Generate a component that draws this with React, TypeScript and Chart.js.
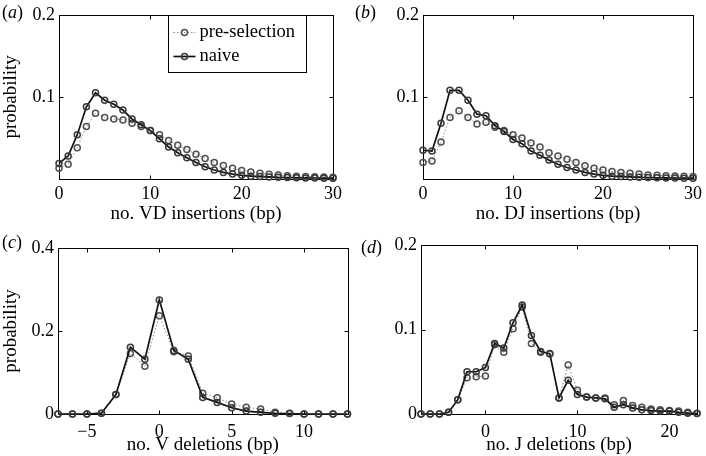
import React, { useEffect, useRef } from "react";
import { Chart, registerables } from "chart.js";

Chart.register(...registerables);

// ---------- data ----------
const vdInsX = [0, 1, 2, 3, 4, 5, 6, 7, 8, 9, 10, 11, 12, 13, 14, 15, 16, 17, 18, 19, 20, 21, 22, 23, 24, 25, 26, 27, 28, 29, 30];
const vdPre = [0.013, 0.018, 0.038, 0.064, 0.080, 0.075, 0.073, 0.072, 0.068, 0.064, 0.059, 0.054, 0.047, 0.041, 0.036, 0.030, 0.025, 0.020, 0.0165, 0.013, 0.0105, 0.0085, 0.007, 0.0058, 0.0048, 0.004, 0.0035, 0.003, 0.0027, 0.0024, 0.0022];
const vdNaive = [0.019, 0.028, 0.054, 0.088, 0.105, 0.096, 0.091, 0.084, 0.073, 0.066, 0.059, 0.049, 0.039, 0.032, 0.026, 0.020, 0.015, 0.011, 0.008, 0.006, 0.0045, 0.0035, 0.003, 0.0025, 0.002, 0.0018, 0.0015, 0.0013, 0.0012, 0.001, 0.001];

const djInsX = [0, 1, 2, 3, 4, 5, 6, 7, 8, 9, 10, 11, 12, 13, 14, 15, 16, 17, 18, 19, 20, 21, 22, 23, 24, 25, 26, 27, 28, 29, 30];
const djPre = [0.020, 0.022, 0.045, 0.075, 0.083, 0.075, 0.067, 0.069, 0.063, 0.059, 0.054, 0.050, 0.044, 0.039, 0.032, 0.028, 0.024, 0.020, 0.016, 0.013, 0.011, 0.009, 0.0078, 0.007, 0.006, 0.005, 0.0045, 0.004, 0.0036, 0.0032, 0.003];
const djNaive = [0.035, 0.034, 0.068, 0.108, 0.108, 0.096, 0.079, 0.077, 0.065, 0.058, 0.048, 0.043, 0.034, 0.029, 0.023, 0.018, 0.014, 0.011, 0.008, 0.006, 0.0045, 0.0035, 0.003, 0.0025, 0.002, 0.0018, 0.0015, 0.0013, 0.0012, 0.001, 0.001];

const vDelX = [-7, -6, -5, -4, -3, -2, -1, 0, 1, 2, 3, 4, 5, 6, 7, 8, 9, 10, 11, 12, 13];
const vPre = [0, 0, 0, 0.002, 0.047, 0.146, 0.115, 0.237, 0.150, 0.140, 0.050, 0.039, 0.024, 0.016, 0.012, 0.004, 0.0016, 0, 0, 0, 0];
const vNaive = [0, 0, 0, 0.002, 0.047, 0.161, 0.132, 0.275, 0.153, 0.132, 0.040, 0.028, 0.015, 0.007, 0.004, 0.0016, 0.001, 0, 0, 0, 0];

const jDelX = [-7, -6, -5, -4, -3, -2, -1, 0, 1, 2, 3, 4, 5, 6, 7, 8, 9, 10, 11, 12, 13, 14, 15, 16, 17, 18, 19, 20, 21, 22, 23];
const jPre = [0, 0, 0, 0.002, 0.017, 0.043, 0.044, 0.045, 0.082, 0.073, 0.101, 0.1265, 0.0835, 0.073, 0.071, 0.019, 0.058, 0.028, 0.020, 0.019, 0.019, 0.011, 0.016, 0.010, 0.008, 0.006, 0.005, 0.004, 0.0035, 0.002, 0.001];
const jNaive = [0, 0, 0, 0.002, 0.017, 0.050, 0.050, 0.055, 0.0835, 0.078, 0.108, 0.129, 0.093, 0.074, 0.0715, 0.019, 0.040, 0.023, 0.020, 0.019, 0.018, 0.008, 0.011, 0.0072, 0.005, 0.004, 0.0035, 0.0035, 0.002, 0.001, 0.0005];

const insXTicks = [0, 10, 20, 30];
const insYTicks = [0.1, 0.2];
const vXTicks = [-5, 0, 5, 10];
const vYTicks = [0, 0.2, 0.4];
const jXTicks = [0, 10, 20];
const jYTicks = [0, 0.1, 0.2];

const seriesNames = ["pre-selection", "naive"];
const yTitle = "probability";

// ---------- styling ----------
const FONT_FAMILY = "'Liberation Serif', 'Times New Roman', serif";
const tickFont = { family: FONT_FAMILY, size: 18 };
const titleFont = { family: FONT_FAMILY, size: 19 };

const PRE_STYLE = {
  borderColor: "#8a8a8a",
  borderWidth: 1,
  borderDash: [1.5, 2],
  pointRadius: 3,
  pointBorderWidth: 1.5,
  pointBorderColor: "#505050",
  pointBackgroundColor: "rgba(255,255,255,0)",
};
const NAIVE_STYLE = {
  borderColor: "#111",
  borderWidth: 1.7,
  borderDash: [] as number[],
  pointRadius: 3,
  pointBorderWidth: 1.5,
  pointBorderColor: "#3a3a3a",
  pointBackgroundColor: "rgba(255,255,255,0)",
};

function fmt(v: number) {
  const n = Number(v);
  if (n === 0) return "0";
  const s = Number.isInteger(n) ? String(Math.abs(n)) : Math.abs(n).toFixed(1);
  return n < 0 ? "\u2212" + s : s;
}

const boxPlugin = {
  id: "matlabBox",
  beforeDatasetsDraw(chart: any) {
    const { ctx, chartArea, scales } = chart;
    const { left, right, top, bottom } = chartArea;
    const x = scales.x;
    const y = scales.y;
    ctx.save();
    ctx.strokeStyle = "#000";
    ctx.lineWidth = 1;
    const L = Math.round(left) + 0.5;
    const R = Math.round(right) + 0.5;
    const T = Math.round(top) + 0.5;
    const B = Math.round(bottom) + 0.5;
    ctx.strokeRect(L, T, R - L, B - T);
    const len = 4;
    ctx.beginPath();
    x.ticks.forEach((t: any) => {
      const px = Math.round(x.getPixelForValue(t.value)) + 0.5;
      ctx.moveTo(px, B);
      ctx.lineTo(px, B - len);
      ctx.moveTo(px, T);
      ctx.lineTo(px, T + len);
    });
    y.ticks.forEach((t: any) => {
      const py = Math.round(y.getPixelForValue(t.value)) + 0.5;
      ctx.moveTo(L, py);
      ctx.lineTo(L + len, py);
      ctx.moveTo(R, py);
      ctx.lineTo(R - len, py);
    });
    ctx.stroke();
    ctx.restore();
  },
};

const legendPlugin = {
  id: "boxLegend",
  afterDraw(chart: any) {
    const { ctx, chartArea } = chart;
    const bx = Math.round(chartArea.left) + 109.5;
    const by = Math.round(chartArea.top) + 0.5;
    const bw = 138;
    const bh = 57;
    ctx.save();
    ctx.fillStyle = "#fff";
    ctx.fillRect(bx, by, bw, bh);
    ctx.strokeStyle = "#000";
    ctx.lineWidth = 1;
    ctx.strokeRect(bx, by, bw, bh);
    const styles = [PRE_STYLE, NAIVE_STYLE];
    const rows = [by + 17, by + 41];
    styles.forEach((st, i) => {
      const yy = rows[i];
      ctx.save();
      ctx.strokeStyle = st.borderColor;
      ctx.lineWidth = st.borderWidth;
      ctx.setLineDash(st.borderDash);
      ctx.beginPath();
      ctx.moveTo(bx + 5, yy);
      ctx.lineTo(bx + 27, yy);
      ctx.stroke();
      ctx.setLineDash([]);
      ctx.beginPath();
      ctx.arc(bx + 16, yy, st.pointRadius, 0, Math.PI * 2);
      ctx.lineWidth = st.pointBorderWidth;
      ctx.strokeStyle = st.pointBorderColor;
      ctx.stroke();
      ctx.restore();
      ctx.fillStyle = "#000";
      ctx.font = `18.5px ${FONT_FAMILY}`;
      ctx.textBaseline = "middle";
      ctx.textAlign = "left";
      ctx.fillText(seriesNames[i], bx + 31, yy);
    });
    ctx.restore();
  },
};

type PanelProps = {
  tag: string;
  xs: number[];
  pre: number[];
  naive: number[];
  xMin: number;
  xMax: number;
  yMax: number;
  xTicks: number[];
  yTicks: number[];
  xTitle: string;
  showYTitle: boolean;
  legend: boolean;
  left: number;
  top: number;
  areaLeft: number;
  areaRight: number;
  areaTop: number;
  areaBottom: number;
  tagTop: number;
  tagLeft: number;
  tickPad: number;
  titlePad: number;
};

const W = 353;
const H = 228;

function Panel(p: PanelProps) {
  const ref = useRef<HTMLCanvasElement>(null);
  useEffect(() => {
    if (!ref.current) return;
    const toPts = (ys: number[]) => p.xs.map((x, i) => ({ x, y: ys[i] }));
    const chart = new Chart(ref.current, {
      type: "line",
      data: {
        datasets: [
          { label: seriesNames[1], data: toPts(p.naive), ...NAIVE_STYLE, fill: false, tension: 0, clip: false } as any,
          { label: seriesNames[0], data: toPts(p.pre), ...PRE_STYLE, fill: false, tension: 0, clip: false } as any,
        ],
      },
      options: {
        animation: false,
        responsive: false,
        maintainAspectRatio: false,
        events: [],
        layout: { padding: { left: 0, right: W - p.areaRight, top: p.areaTop, bottom: 0 } },
        plugins: { legend: { display: false }, tooltip: { enabled: false } },
        scales: {
          x: {
            type: "linear",
            position: "bottom",
            min: p.xMin,
            max: p.xMax,
            afterBuildTicks: (s: any) => {
              s.ticks = p.xTicks.map((v) => ({ value: v }));
            },
            afterFit: (s: any) => {
              s.height = H - p.areaBottom;
            },
            grid: { display: false, drawTicks: false },
            border: { display: false },
            ticks: { font: tickFont, color: "#000", padding: p.tickPad, maxRotation: 0, autoSkip: false, callback: (v: any) => fmt(v) },
            title: { display: true, text: p.xTitle, font: titleFont, color: "#000", padding: { top: 0, bottom: p.titlePad } },
          },
          y: {
            type: "linear",
            min: 0,
            max: p.yMax,
            afterBuildTicks: (s: any) => {
              s.ticks = p.yTicks.map((v) => ({ value: v }));
            },
            afterFit: (s: any) => {
              s.width = p.areaLeft;
            },
            grid: { display: false, drawTicks: false },
            border: { display: false },
            ticks: { font: tickFont, color: "#000", padding: 4, autoSkip: false, callback: (v: any) => fmt(v) },
            title: { display: p.showYTitle, text: yTitle, font: titleFont, color: "#000", padding: { top: 0, bottom: 0 } },
          },
        },
      } as any,
      plugins: p.legend ? [boxPlugin, legendPlugin] : [boxPlugin],
    });
    return () => chart.destroy();
  }, []);
  return (
    <>
      <canvas
        ref={ref}
        width={W}
        height={H}
        style={{ position: "absolute", left: p.left, top: p.top, width: W, height: H }}
      />
      <div
        style={{
          position: "absolute",
          left: p.left + p.tagLeft,
          top: p.top + p.tagTop,
          fontFamily: FONT_FAMILY,
          fontSize: 18,
          lineHeight: "18px",
          color: "#000",
          whiteSpace: "nowrap",
        }}
      >
        (<i>{p.tag}</i>)
      </div>
    </>
  );
}

export default function App() {
  return (
    <div style={{ position: "fixed", left: 0, top: 0, width: 706, height: 456, background: "#fff", overflow: "hidden" }}>
      <Panel
        tag="a" xs={vdInsX} pre={vdPre} naive={vdNaive} xMin={0} xMax={30} yMax={0.2}
        xTicks={insXTicks} yTicks={insYTicks} xTitle="no. VD insertions (bp)" showYTitle legend
        left={0} top={0} areaLeft={59} areaRight={333} areaTop={13} areaBottom={179} tagTop={3} tagLeft={2}
        tickPad={4} titlePad={3}
      />
      <Panel
        tag="b" xs={djInsX} pre={djPre} naive={djNaive} xMin={0} xMax={30} yMax={0.2}
        xTicks={insXTicks} yTicks={insYTicks} xTitle="no. DJ insertions (bp)" showYTitle={false} legend={false}
        left={353} top={0} areaLeft={70} areaRight={343} areaTop={13} areaBottom={179} tagTop={3} tagLeft={2}
        tickPad={4} titlePad={3}
      />
      <Panel
        tag="c" xs={vDelX} pre={vPre} naive={vNaive} xMin={-7} xMax={13} yMax={0.4}
        xTicks={vXTicks} yTicks={vYTicks} xTitle="no. V deletions (bp)" showYTitle legend={false}
        left={0} top={228} areaLeft={58} areaRight={348} areaTop={20} areaBottom={186} tagTop={5} tagLeft={2}
        tickPad={7} titlePad={0}
      />
      <Panel
        tag="d" xs={jDelX} pre={jPre} naive={jNaive} xMin={-7} xMax={23} yMax={0.2}
        xTicks={jXTicks} yTicks={jYTicks} xTitle="no. J deletions (bp)" showYTitle={false} legend={false}
        left={353} top={228} areaLeft={68} areaRight={344} areaTop={17} areaBottom={186} tagTop={10} tagLeft={8}
        tickPad={7} titlePad={0}
      />
    </div>
  );
}
